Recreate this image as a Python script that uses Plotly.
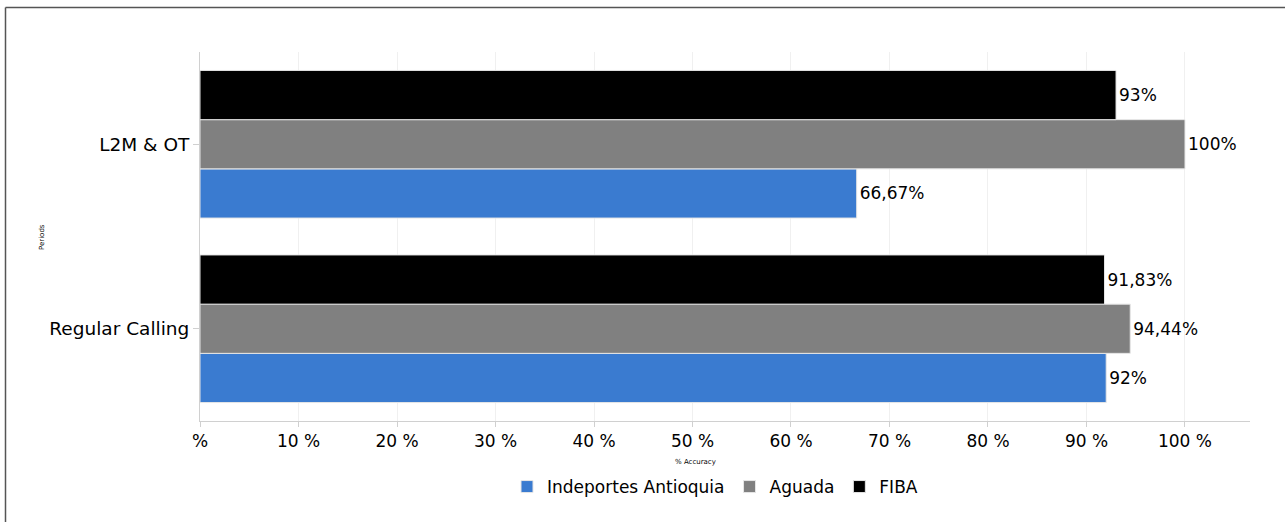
import plotly.graph_objects as go

categories = ["Regular Calling", "L2M & OT"]
series_names = ["Indeportes Antioquia", "Aguada", "FIBA"]
indeportes = [92, 66.67]
aguada = [94.44, 100]
fiba = [91.83, 93]
indeportes_text = ["92%", "66,67%"]
aguada_text = ["94,44%", "100%"]
fiba_text = ["91,83%", "93%"]
tick_vals = [0, 10, 20, 30, 40, 50, 60, 70, 80, 90, 100]
tick_text = ["%", "10 %", "20 %", "30 %", "40 %", "50 %", "60 %", "70 %", "80 %", "90 %", "100 %"]

colors = ["#3A7BD0", "#808080", "#000000"]
FONT = "DejaVu Sans"

W, H = 1285, 522
L, R, T, B = 200, 35, 52, 101
pw, ph = W - L - R, H - T - B

def px_x(px):
    return (px - L) / pw

def px_y(py):
    return (H - B - py) / ph

fig = go.Figure()
for name, vals, txt, col in zip(series_names, [indeportes, aguada, fiba],
                                [indeportes_text, aguada_text, fiba_text], colors):
    fig.add_trace(go.Bar(
        y=categories, x=vals, name=name, orientation="h",
        marker=dict(color=col, line=dict(color="#e6e6e6", width=1)),
        text=txt, textposition="outside", cliponaxis=False,
        textfont=dict(family=FONT, size=17, color="#000000"),
    ))

fig.update_layout(
    width=W, height=H,
    margin=dict(l=L, r=R, t=T, b=B),
    paper_bgcolor="white", plot_bgcolor="white",
    barmode="group", bargap=0.2, bargroupgap=0,
    font=dict(family=FONT, color="#000000"),
    showlegend=True,
    legend=dict(orientation="h", x=px_x(715), xanchor="center", y=px_y(487), yanchor="middle",
                font=dict(family=FONT, size=17), traceorder="normal",
                itemwidth=30, tracegroupgap=0),
    xaxis=dict(range=[0, 106.6], tickvals=tick_vals, ticktext=tick_text,
               tickfont=dict(family=FONT, size=17), showgrid=True, gridcolor="#f0f0f0",
               showline=True, linecolor="#d0d0d0", linewidth=1,
               ticks="outside", ticklen=5, tickcolor="#d0d0d0", zeroline=False),
    yaxis=dict(categoryorder="array", categoryarray=categories,
               tickfont=dict(family=FONT, size=18.5), showgrid=False,
               showline=True, linecolor="#d0d0d0", linewidth=1,
               ticks="outside", ticklen=6, tickcolor="#d0d0d0", zeroline=False),
    annotations=[
        dict(text="% Accuracy", x=px_x(695), y=px_y(462), xref="paper", yref="paper",
             showarrow=False, font=dict(family=FONT, size=7), xanchor="center", yanchor="middle"),
        dict(text="Periods", x=px_x(42), y=px_y(237), xref="paper", yref="paper",
             showarrow=False, font=dict(family=FONT, size=7), textangle=-90,
             xanchor="center", yanchor="middle"),
    ],
    shapes=[
        dict(type="line", xref="paper", yref="paper", x0=px_x(5.5), x1=px_x(5.5),
             y0=px_y(7.5), y1=px_y(530), line=dict(color="#555555", width=1.5)),
        dict(type="line", xref="paper", yref="paper", x0=px_x(5.5), x1=px_x(1290),
             y0=px_y(7.5), y1=px_y(7.5), line=dict(color="#555555", width=1.5)),
    ],
)

fig.write_html("out.html", config={"displayModeBar": False},
               post_script="document.body.style.margin='0px';")
